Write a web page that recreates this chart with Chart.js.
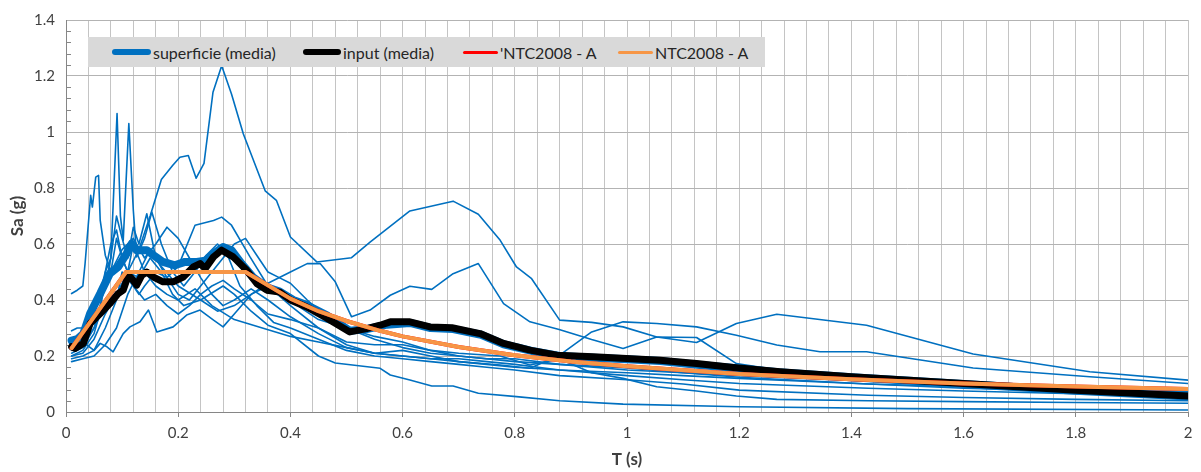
<!DOCTYPE html>
<html><head><meta charset="utf-8">
<script src="https://cdn.jsdelivr.net/npm/chart.js@4.4.1/dist/chart.umd.min.js"></script>
<style>
html,body{margin:0;padding:0;background:#fff;}
#wrap{position:relative;width:1201px;height:472px;}
#legend{position:absolute;left:88px;top:37px;width:677px;height:30px;background:#d9d9d9;font-family:Lato,"Open Sans",sans-serif;font-size:16px;color:#262626;}
.item{position:absolute;top:0;height:30px;display:flex;align-items:center;white-space:nowrap;}
.sym{display:inline-block;margin-right:2px;}
</style>
</head><body>
<div id="wrap"><canvas id="c" width="1201" height="472"></canvas><div id="legend"></div></div>
<script>
// ---- tick labels ----
const xTickLabels = ['0','0.2','0.4','0.6','0.8','1','1.2','1.4','1.6','1.8','2'];
const yTickLabels = ['0','0.2','0.4','0.6','0.8','1','1.2','1.4'];

// ---- individual records (thin blue lines) ----
const r1T = [0.01,0.03,0.05,0.07,0.09,0.11,0.13,0.15,0.17,0.19,0.203,0.218,0.232,0.246,0.262,0.2775,0.295,0.316,0.355,0.375,0.4,0.447,0.509,0.542,0.613,0.69,0.735,0.774,0.803,0.83,0.88,0.937,0.993,1.053,1.124,1.195,1.267,1.427,1.617,1.825,2.0];
const r1Sa = [0.22,0.24,0.30,0.38,0.45,0.50,0.58,0.70,0.83,0.88,0.91,0.916,0.835,0.888,1.142,1.237,1.136,0.994,0.79,0.756,0.625,0.536,0.551,0.607,0.718,0.753,0.706,0.613,0.518,0.476,0.328,0.32,0.304,0.268,0.248,0.316,0.349,0.31,0.207,0.144,0.114];
const r2T = [0.01,0.03,0.05,0.07,0.09,0.11,0.13,0.15,0.17,0.19,0.21,0.24,0.27,0.3,0.33,0.36,0.4,0.43,0.453,0.48,0.509,0.542,0.578,0.613,0.652,0.69,0.735,0.78,0.827,0.879,0.937,0.993,1.053,1.124,1.195,1.27,1.43,1.62,1.83,2.0];
const r2Sa = [0.2,0.21,0.26,0.35,0.42,0.5,0.48,0.55,0.5,0.42,0.38,0.4,0.36,0.38,0.42,0.46,0.5,0.53,0.53,0.465,0.34,0.364,0.417,0.449,0.438,0.494,0.53,0.387,0.322,0.295,0.259,0.227,0.268,0.266,0.173,0.15,0.125,0.1,0.085,0.075];
const r3T = [0.01,0.02,0.03,0.034,0.044,0.047,0.053,0.058,0.061,0.07,0.08,0.09,0.1,0.11,0.12,0.14,0.16,0.18,0.2,0.23,0.26,0.3,0.35,0.4,0.45,0.5,0.55,0.6,0.65,0.7,0.774,0.827,0.88,0.937,0.993,1.053,1.124,1.195,1.267,1.344,1.427,1.617,1.825,2.0];
const r3Sa = [0.423,0.435,0.45,0.53,0.774,0.732,0.839,0.845,0.684,0.56,0.5,0.62,0.55,0.5,0.6,0.5,0.45,0.42,0.4,0.44,0.38,0.33,0.3,0.27,0.25,0.23,0.21,0.2,0.19,0.18,0.168,0.156,0.203,0.286,0.322,0.316,0.304,0.274,0.239,0.215,0.215,0.157,0.126,0.102];
const r4T = [0.01,0.03,0.05,0.07,0.09,0.11,0.13,0.15,0.17,0.2,0.24,0.28,0.3,0.33,0.36,0.4,0.45,0.48,0.56,0.578,0.613,0.652,0.69,0.735,0.803,0.88,0.993,1.2,1.5,2.0];
const r4Sa = [0.18,0.19,0.2,0.24,0.3,0.42,0.5,0.58,0.52,0.45,0.4,0.45,0.42,0.36,0.31,0.28,0.2,0.175,0.156,0.132,0.114,0.093,0.093,0.067,0.055,0.04,0.028,0.019,0.012,0.007];
const r5T = [0.01,0.03,0.05,0.07,0.08,0.09,0.1,0.11,0.12,0.13,0.144,0.16,0.18,0.2,0.23,0.263,0.2775,0.295,0.328,0.36,0.4,0.45,0.5,0.55,0.6,0.65,0.7,0.774,0.827,0.88,0.937,0.993,1.053,1.124,1.195,1.267,1.43,1.6,1.8,2.0];
const r5Sa = [0.21,0.23,0.3,0.45,0.55,0.7,0.62,0.55,0.66,0.6,0.708,0.55,0.48,0.52,0.667,0.684,0.696,0.667,0.554,0.45,0.38,0.3,0.25,0.24,0.24,0.22,0.21,0.2,0.168,0.189,0.14,0.12,0.09,0.075,0.057,0.045,0.04,0.037,0.034,0.031];
const r6T = [0.01,0.02,0.03,0.05,0.06,0.07,0.08,0.091,0.097,0.102,0.112,0.12,0.126,0.14,0.153,0.17,0.19,0.21,0.23,0.25,0.27,0.29,0.31,0.34,0.37,0.4,0.45,0.5,0.55,0.6,0.65,0.7,0.75,0.8,0.88,1.0,1.1,1.2,1.43,1.6,1.8,2.0];
const r6Sa = [0.29,0.3,0.3,0.35,0.42,0.5,0.55,1.066,0.7,0.613,1.03,0.72,0.554,0.62,0.714,0.6,0.5,0.45,0.5,0.56,0.6,0.55,0.45,0.38,0.32,0.3,0.26,0.22,0.2,0.19,0.18,0.17,0.16,0.15,0.13,0.115,0.1,0.078,0.06,0.052,0.045,0.04];
const r7T = [0.01,0.03,0.05,0.06,0.07,0.08,0.09,0.1,0.11,0.12,0.13,0.14,0.16,0.18,0.2,0.22,0.24,0.26,0.28,0.3,0.32,0.34,0.36,0.38,0.4,0.43,0.47,0.5,0.55,0.6,0.65,0.7,0.8,0.88,1.0,1.1,1.2,1.43,1.6,1.8,2.0];
const r7Sa = [0.2,0.22,0.28,0.35,0.5,0.6,0.65,0.55,0.5,0.45,0.42,0.45,0.5,0.48,0.42,0.4,0.45,0.5,0.55,0.6,0.62,0.56,0.5,0.48,0.46,0.4,0.33,0.3,0.27,0.25,0.22,0.2,0.18,0.17,0.157,0.14,0.124,0.1,0.085,0.075,0.068];
const r8T = [0.01,0.03,0.05,0.07,0.09,0.1,0.12,0.14,0.16,0.18,0.2,0.22,0.24,0.26,0.28,0.3,0.33,0.36,0.4,0.45,0.5,0.55,0.6,0.65,0.7,0.75,0.8,0.88,1.0,1.1,1.2,1.43,1.6,1.8,2.0];
const r8Sa = [0.19,0.2,0.22,0.3,0.4,0.5,0.45,0.4,0.42,0.38,0.35,0.38,0.42,0.45,0.47,0.44,0.4,0.35,0.33,0.3,0.24,0.21,0.2,0.19,0.19,0.18,0.17,0.15,0.13,0.115,0.102,0.085,0.075,0.065,0.058];
const r9T = [0.01,0.03,0.05,0.061,0.073,0.084,0.102,0.114,0.132,0.147,0.162,0.191,0.215,0.239,0.263,0.28,0.3,0.33,0.36,0.39,0.42,0.45,0.5,0.55,0.6,0.65,0.7,0.75,0.8,0.88,1.0,1.1,1.2,1.43,1.6,1.8,2.0];
const r9Sa = [0.24,0.25,0.22,0.245,0.233,0.215,0.28,0.304,0.322,0.364,0.286,0.304,0.346,0.364,0.328,0.304,0.35,0.42,0.45,0.42,0.37,0.33,0.3,0.26,0.23,0.21,0.2,0.19,0.19,0.17,0.15,0.14,0.13,0.11,0.095,0.085,0.078];
const r10T = [0.01,0.02,0.04,0.06,0.08,0.1,0.12,0.14,0.16,0.18,0.2,0.22,0.24,0.26,0.28,0.3,0.33,0.36,0.4,0.45,0.5,0.55,0.6,0.65,0.7,0.75,0.8,0.88,1.0,1.1,1.2,1.43,1.6,1.8,2.0];
const r10Sa = [0.25,0.26,0.3,0.42,0.5,0.58,0.62,0.55,0.6,0.66,0.62,0.55,0.48,0.42,0.38,0.4,0.44,0.4,0.34,0.28,0.23,0.21,0.22,0.2,0.18,0.17,0.16,0.15,0.14,0.13,0.12,0.1,0.09,0.08,0.072];

// ---- superficie (media) ----
const surfT = [0.01,0.02,0.031,0.043,0.061,0.078,0.093,0.108,0.117,0.126,0.144,0.156,0.173,0.194,0.212,0.233,0.248,0.263,0.28,0.295,0.313,0.334,0.358,0.381,0.405,0.429,0.465,0.506,0.536,0.572,0.613,0.65,0.69,0.74,0.78,0.83,0.88,0.94,1.0,1.06,1.12,1.19,1.27,1.4,1.6,1.8,2.0];
const surfSa = [0.255,0.26,0.28,0.352,0.423,0.494,0.518,0.566,0.601,0.578,0.578,0.56,0.536,0.524,0.536,0.536,0.54,0.566,0.589,0.578,0.53,0.48,0.445,0.43,0.4,0.382,0.345,0.29,0.296,0.312,0.318,0.3,0.296,0.276,0.242,0.218,0.2,0.194,0.188,0.182,0.17,0.157,0.142,0.124,0.1,0.076,0.055];
// ---- input (media) ----
const inpT = [0.01,0.016,0.031,0.043,0.061,0.078,0.093,0.102,0.111,0.117,0.126,0.135,0.144,0.156,0.173,0.191,0.209,0.227,0.239,0.248,0.263,0.2775,0.298,0.322,0.34,0.358,0.381,0.4,0.429,0.465,0.506,0.536,0.56,0.578,0.613,0.649,0.688,0.738,0.78,0.827,0.875,0.94,0.999,1.059,1.124,1.19,1.273,1.4,1.6,1.8,2.0];
const inpSa = [0.233,0.227,0.245,0.316,0.352,0.387,0.423,0.435,0.488,0.477,0.453,0.488,0.5,0.482,0.465,0.465,0.482,0.518,0.53,0.512,0.554,0.578,0.554,0.506,0.459,0.435,0.428,0.4,0.375,0.335,0.286,0.298,0.31,0.322,0.322,0.304,0.301,0.28,0.245,0.221,0.203,0.197,0.191,0.185,0.173,0.159,0.144,0.126,0.102,0.078,0.057];
// ---- NTC2008 - A design spectrum ----
const ntcT = [0.01,0.107,0.32,0.4,0.45,0.5,0.56,0.6,0.7,0.8,0.9,1.0,1.2,1.4,1.6,1.8,2.0];
const ntcSa = [0.228,0.5,0.5,0.405,0.36,0.325,0.29,0.27,0.232,0.203,0.18,0.163,0.136,0.117,0.102,0.091,0.082];

function pts(T, S){ const n=Math.min(T.length,S.length); const o=[]; for(let i=0;i<n;i++) o.push({x:T[i],y:S[i]}); return o; }

const BLUE='#0070C0', ORANGE='#F79646';
const records = [[r1T,r1Sa],[r2T,r2Sa],[r3T,r3Sa],[r4T,r4Sa],[r5T,r5Sa],[r6T,r6Sa],[r7T,r7Sa],[r8T,r8Sa],[r9T,r9Sa],[r10T,r10Sa]];

const datasets = [
  {label:'NTC2008 - A', data:pts(ntcT,ntcSa), borderColor:ORANGE, borderWidth:4, order:0, symH:3, symW:35},
  {label:"'NTC2008 - A", data:pts(ntcT,ntcSa), borderColor:'#FF0000', borderWidth:4, order:1, symH:3, symW:35},
  {label:'input (media)', data:pts(inpT,inpSa), borderColor:'#000000', borderWidth:7, order:2, symH:6, symW:38},
  {label:'superficie (media)', data:pts(surfT,surfSa), borderColor:BLUE, borderWidth:8, order:3, symH:6, symW:39},
];
records.forEach((r,i)=>datasets.push({label:'rec'+(i+1), data:pts(r[0],r[1]), borderColor:BLUE, borderWidth:1.6, order:10+i}));
datasets.forEach(d=>{ d.showLine=true; d.pointRadius=0; d.pointHoverRadius=0; d.tension=0; d.fill=false; d.borderJoinStyle='round'; d.borderCapStyle='round'; d.backgroundColor=d.borderColor; });

const FONT = 'Lato, "Open Sans", sans-serif';
const minorTicks = {
  id:'minorTicks',
  beforeDatasetsDraw(chart){
    const y = chart.scales.y, ctx = chart.ctx, left = chart.chartArea.left;
    ctx.save(); ctx.strokeStyle='#868686'; ctx.lineWidth=1;
    for(let k=1;k<35;k++){
      if(k%5===0) continue;
      const py = Math.round(y.getPixelForValue(k*0.04))+0.5;
      ctx.beginPath(); ctx.moveTo(left,py); ctx.lineTo(left+5,py); ctx.stroke();
    }
    ctx.restore();
  }
};

new Chart(document.getElementById('c'), {
  type:'scatter',
  data:{datasets},
  options:{
    responsive:false, animation:false, devicePixelRatio:1,
    layout:{padding:{top:19,right:13,left:0,bottom:0}},
    plugins:{legend:{display:false}, tooltip:{enabled:false}},
    scales:{
      x:{type:'linear', min:0, max:2,
        afterFit(s){ s.height=60; },
        ticks:{stepSize:0.04, autoSkip:false, maxRotation:0, padding:7, color:'#404040', font:{family:FONT,size:15},
          callback(v,i){ return i%5===0 ? xTickLabels[i/5] : ''; }},
        grid:{color:'#c4c4c4', lineWidth:1, drawTicks:true, tickLength:5,
          tickColor(ctx){ return ctx.index%5===0 ? '#868686' : 'rgba(0,0,0,0)'; }},
        border:{color:'#868686', width:1},
        title:{display:true, text:'T (s)', color:'#404040', font:{family:FONT,size:17,weight:'bold'}, padding:{top:0,bottom:2}}
      },
      y:{type:'linear', min:0, max:1.4,
        afterFit(s){ s.width=66; },
        ticks:{stepSize:0.2, padding:11, color:'#404040', font:{family:FONT,size:15},
          callback(v,i){ return yTickLabels[i]; }},
        grid:{color:'#b3b3b3', lineWidth:1, drawTicks:false},
        border:{color:'#868686', width:1},
        title:{display:true, text:'Sa (g)', color:'#404040', font:{family:FONT,size:17,weight:'bold'}, padding:{top:7,bottom:0}}
      }
    }
  },
  plugins:[minorTicks]
});

// HTML legend built from the legend datasets
const legendOrder = ['superficie (media)','input (media)',"'NTC2008 - A",'NTC2008 - A'];
const legendLeft = [24,215,375,530];
const lg = document.getElementById('legend');
legendOrder.forEach((lab,i)=>{
  const d = datasets.find(x=>x.label===lab);
  const it = document.createElement('div'); it.className='item'; it.style.left=legendLeft[i]+'px';
  const s = document.createElement('span'); s.className='sym';
  s.style.width=d.symW+'px'; s.style.height=d.symH+'px'; s.style.background=d.borderColor; s.style.borderRadius=(d.symH/2)+'px';
  const t = document.createElement('span'); t.textContent=lab;
  it.appendChild(s); it.appendChild(t); lg.appendChild(it);
});
</script>
</body></html>
